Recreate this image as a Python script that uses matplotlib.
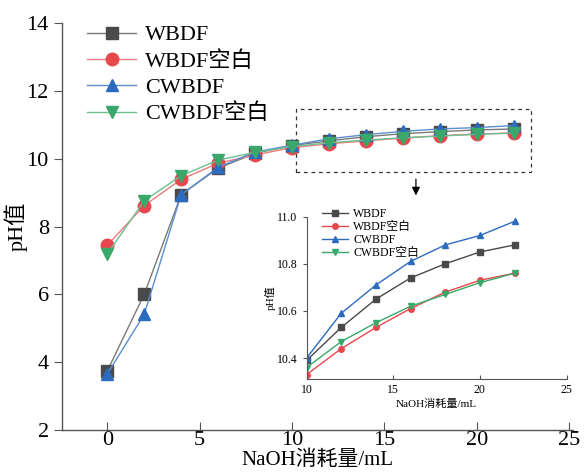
import matplotlib
matplotlib.use("Agg")
import matplotlib.pyplot as plt
from matplotlib.patches import Rectangle

plt.rcParams['font.family'] = ['Liberation Serif', 'Noto Sans CJK SC']
plt.rcParams['mathtext.fontset'] = 'stix'

x = [0, 2, 4, 6, 8, 10, 12, 14, 16, 18, 20, 22]
wbdf = [3.74, 6.00, 8.94, 9.72, 10.16, 10.39, 10.53, 10.65, 10.74, 10.80, 10.85, 10.88]
wbdf_blank = [7.45, 8.62, 9.39, 9.87, 10.11, 10.33, 10.44, 10.53, 10.61, 10.68, 10.73, 10.76]
cwbdf = [3.65, 5.41, 8.94, 9.75, 10.20, 10.40, 10.59, 10.71, 10.81, 10.88, 10.92, 10.98]
cwbdf_blank = [7.19, 8.76, 9.50, 9.96, 10.19, 10.36, 10.47, 10.55, 10.62, 10.67, 10.72, 10.76]
labels = ['WBDF', 'WBDF空白', 'CWBDF', 'CWBDF空白']

series = [wbdf, wbdf_blank, cwbdf, cwbdf_blank]
colors = ['#4a4a4a', '#e8474d', '#2c6bbd', '#3aa86a']
line_colors = ['#7a7a7a', '#ef7a7d', '#5a8fd0', '#6cc08f']
markers = ['s', 'o', '^', 'v']

fig = plt.figure(figsize=(5.85, 4.73), dpi=100)
ax = fig.add_axes([0.106, 0.091, 0.873, 0.860])
for s, c, lc, m, lab in zip(series, colors, line_colors, markers, labels):
    ax.plot(x, s, color=lc, lw=1.0, marker=m, ms=9, mfc=c, mec=c, label=lab)
ax.set_xlim(-2.45, 25.2)
ax.set_ylim(2, 14)
ax.set_xticks([0, 5, 10, 15, 20, 25])
ax.set_yticks([2, 4, 6, 8, 10, 12, 14])
ax.spines['top'].set_visible(False)
ax.spines['right'].set_visible(False)
for sp in ['left', 'bottom']:
    ax.spines[sp].set_color('#555555')
    ax.spines[sp].set_linewidth(1.0)
ax.tick_params(axis='y', direction='out', labelsize=16, length=6, color='#555555')
ax.tick_params(axis='x', direction='in', labelsize=16, length=6, pad=1, color='#555555')
ax.set_xlabel('NaOH消耗量/mL', fontsize=15, labelpad=0)
ax.set_ylabel('pH值', fontsize=16, labelpad=-1)
ax.legend(loc='upper left', bbox_to_anchor=(0.01, 1.045), frameon=False,
          fontsize=16, handlelength=2.2, labelspacing=0.25, handletextpad=0.4)

# dashed rectangle and arrow
ax.add_patch(Rectangle((10.2, 9.62), 22.96 - 10.2, 11.46 - 9.62, fill=False,
                       ls=(0, (3, 3)), lw=0.9, ec='#333333'))
ax.annotate('', xy=(0.711, 0.581), xytext=(0.711, 0.627), xycoords='figure fraction',
            textcoords='figure fraction',
            arrowprops=dict(arrowstyle='-|>', color='black', lw=0.9, mutation_scale=12))

# inset
ins = fig.add_axes([0.524, 0.198, 0.4445, 0.344])
for s, c, lc, m, lab in zip(series, colors, line_colors, markers, labels):
    ins.plot(x[5:], s[5:], color=c, lw=1.0, marker=m, ms=4, mfc=c, mec=c, label=lab)
ins.set_xlim(10, 25)
ins.set_ylim(10.31, 11.0)
ins.set_xticks([10, 15, 20, 25])
ins.set_yticks([10.4, 10.6, 10.8, 11.0])
ins.set_yticklabels(['10.4', '10.6', '10.8', '11.0'])
ins.spines['top'].set_visible(False)
ins.spines['right'].set_visible(False)
for sp in ['left', 'bottom']:
    ins.spines[sp].set_color('#555555')
    ins.spines[sp].set_linewidth(0.8)
ins.tick_params(axis='y', direction='out', labelsize=8.5, length=3, color='#555555')
ins.tick_params(axis='x', direction='in', labelsize=8.5, length=3, color='#555555')
ins.set_xlabel('NaOH消耗量/mL', fontsize=8, labelpad=2)
ins.set_ylabel('pH值', fontsize=8, labelpad=1)
ins.legend(loc='upper left', bbox_to_anchor=(0.02, 1.12), frameon=False, fontsize=8.5,
           handlelength=2.2, labelspacing=0.1, handletextpad=0.4)

fig.savefig('out.png', dpi=100)
